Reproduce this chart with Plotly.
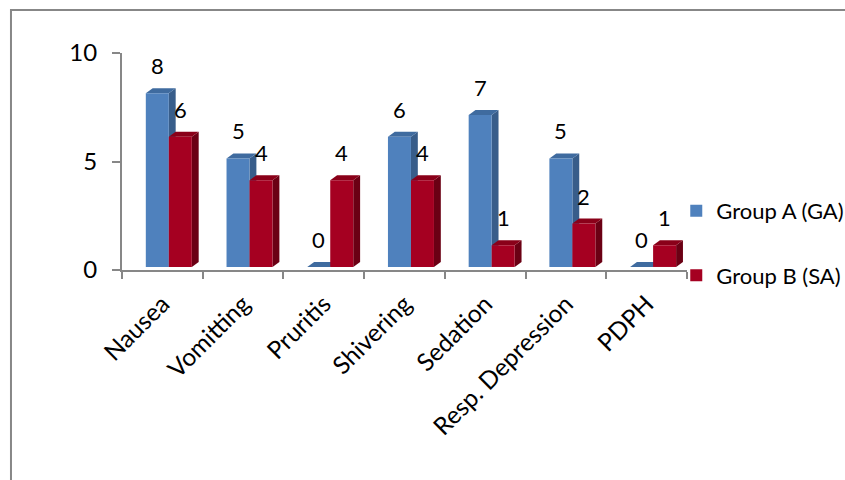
import plotly.graph_objects as go

categories = ["Nausea", "Vomitting", "Pruritis", "Shivering", "Sedation", "Resp. Depression", "PDPH"]
group_a = [8, 5, 0, 6, 7, 5, 0]
group_b = [6, 4, 4, 4, 1, 2, 1]
series_names = ["Group A (GA)", "Group B (SA)"]
y_ticks = [0, 5, 10]

FONT = "Lato"
FONT_SIZE = 22
front_colors = ["#4F81BD", "#A50021"]
top_colors = ["#3F6B9F", "#8A0019"]
side_colors = ["#385D8A", "#6B0014"]

# 3D emulation geometry (axis units)
BAR_W = 0.285
OFFSETS = [-0.205, 0.08]
DX = 0.085
DY = 0.23
FLOOR = 0.14

fig = go.Figure()
xs = list(range(len(categories)))
shapes = []
annotations = []

for s, (vals, name) in enumerate(zip([group_a, group_b], series_names)):
    fig.add_trace(go.Bar(
        x=xs, y=vals, base=[FLOOR] * len(vals), name=name,
        width=BAR_W, offset=OFFSETS[s],
        marker=dict(color=front_colors[s], line=dict(width=0)),
        legendgroup=name, hoverinfo="skip",
    ))
    for i, v in enumerate(vals):
        xl = i + OFFSETS[s]
        xr = xl + BAR_W
        b = FLOOR
        t = FLOOR + v
        side = f"M {xr},{b} L {xr+DX},{b+DY} L {xr+DX},{t+DY} L {xr},{t} Z"
        top = f"M {xl},{t} L {xl+DX},{t+DY} L {xr+DX},{t+DY} L {xr},{t} Z"
        shapes.append(dict(type="path", path=side, xref="x", yref="y",
                           fillcolor=side_colors[s], line=dict(width=0), layer="below"))
        shapes.append(dict(type="path", path=top, xref="x", yref="y",
                           fillcolor=top_colors[s], line=dict(width=0), layer="below"))
        annotations.append(dict(x=(xl + xr) / 2, y=t + DY, xref="x", yref="y",
                                text=str(v), showarrow=False, yanchor="bottom",
                                yshift=7, font=dict(family=FONT, size=FONT_SIZE, color="#000")))

# chart-area border (left and top edges visible)
shapes.append(dict(type="path", xref="paper", yref="paper",
                   path="M -0.1965,-1.0 L -0.1965,1.1982 L 1.3,1.1982",
                   line=dict(color="#878787", width=2), layer="above"))

fig.update_layout(
    width=845, height=480,
    margin=dict(l=122, r=158, t=53, b=210, autoexpand=False),
    paper_bgcolor="white", plot_bgcolor="white",
    barmode="overlay",
    shapes=shapes, annotations=annotations,
    font=dict(family=FONT, size=FONT_SIZE, color="#000"),
    showlegend=True,
    legend=dict(x=0.981, xanchor="left", y=0.369, yanchor="top",
                tracegroupgap=33, font=dict(family=FONT, size=FONT_SIZE),
                bgcolor="rgba(0,0,0,0)"),
    xaxis=dict(range=[-0.5, len(categories) - 0.5], tickvals=xs, ticktext=categories,
               tickangle=-45, ticks="", showgrid=False, zeroline=False,
               showline=True, linecolor="#878787", linewidth=2,
               ticklabelstandoff=8, automargin=False,
               minor=dict(tickvals=[i - 0.5 for i in range(len(categories) + 1)],
                          ticks="outside", ticklen=7, tickcolor="#878787", tickwidth=2),
               tickfont=dict(family=FONT, size=24.5)),
    yaxis=dict(range=[0, 10], tickvals=y_ticks, ticks="outside", ticklen=8,
               tickcolor="#878787", tickwidth=2, showgrid=False, zeroline=False,
               showline=True, linecolor="#878787", linewidth=2,
               ticklabelstandoff=10, automargin=False,
               tickfont=dict(family=FONT, size=24)),
)

fig.write_html("out.html")
